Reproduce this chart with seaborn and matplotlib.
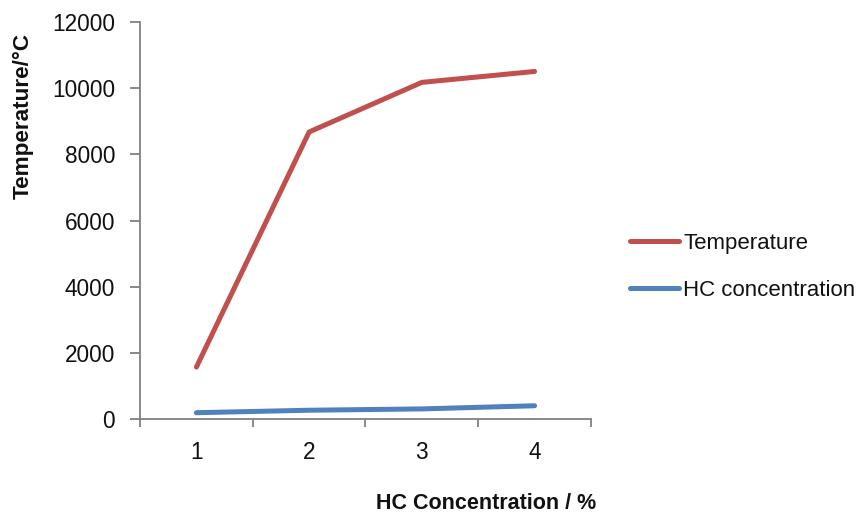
import matplotlib
matplotlib.use("Agg")
import matplotlib.pyplot as plt
import seaborn as sns
import pandas as pd
from matplotlib.lines import Line2D

categories = [1, 2, 3, 4]
temperature = [1570, 8680, 10180, 10510]
hc_concentration = [190, 265, 305, 400]
series_names = ["Temperature", "HC concentration"]
y_ticks = [0, 2000, 4000, 6000, 8000, 10000, 12000]

df = pd.DataFrame({
    "x": categories * 2,
    "y": temperature + hc_concentration,
    "series": [series_names[0]] * 4 + [series_names[1]] * 4,
})

sns.set_theme(style="white")
plt.rcParams["font.family"] = ["Liberation Sans", "DejaVu Sans"]

RED = "#C0504D"
BLUE = "#4F81BD"
TXT = "#111111"

fig = plt.figure(figsize=(8.66, 5.16), dpi=100)
ax = fig.add_axes([0.1617, 0.188, 0.5207, 0.769])

sns.lineplot(data=df, x="x", y="y", hue="series",
             palette={"Temperature": RED, "HC concentration": BLUE},
             linewidth=3.6, ax=ax, legend=False, solid_capstyle="round")

ax.set_xlim(0.5, 4.5)
ax.set_ylim(0, 12000)
ax.set_yticks(y_ticks)
ax.set_yticklabels([str(v) for v in y_ticks], fontsize=16.3, color=TXT)
ax.set_xticks(categories)
ax.set_xticklabels([str(c) for c in categories], fontsize=16.3, color=TXT)
ax.set_xticks([0.5, 1.5, 2.5, 3.5, 4.5], minor=True)
ax.tick_params(axis="x", which="major", length=0, pad=16, bottom=True)
ax.tick_params(axis="x", which="minor", length=6, color="#808080", width=1.3,
               direction="out", bottom=True)
ax.tick_params(axis="y", which="major", length=7, color="#808080", width=1.3,
               direction="out", pad=11, left=True)
for s in ["top", "right"]:
    ax.spines[s].set_visible(False)
for s in ["left", "bottom"]:
    ax.spines[s].set_color("#808080")
    ax.spines[s].set_linewidth(1.3)
ax.set_xlabel("")
ax.set_ylabel("")

fig.text(0.027, 0.775, "Temperature/°C", fontsize=16.2, fontweight="bold",
         rotation=90, ha="center", va="center", color=TXT)
fig.text(0.5615, 0.004, "HC Concentration / %", fontsize=15.5, fontweight="bold",
         ha="center", va="bottom", color=TXT)

handles = [Line2D([], [], color=RED, lw=3.6, solid_capstyle="round"),
           Line2D([], [], color=BLUE, lw=3.6, solid_capstyle="round")]
fig.legend(handles, series_names, loc="center left", bbox_to_anchor=(0.7275, 0.483),
           borderaxespad=0, borderpad=0, frameon=False, fontsize=16,
           handlelength=2.2, handletextpad=0.2, labelspacing=1.15, labelcolor=TXT)

fig.savefig("out.png", dpi=100)
